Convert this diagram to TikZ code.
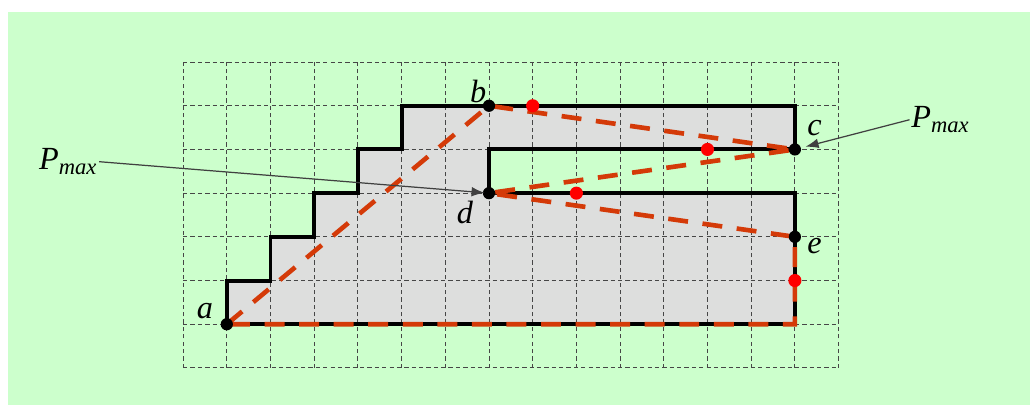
\documentclass[tikz,border=0pt]{standalone}
\usepackage{fontspec}
\setmainfont{Liberation Serif}
\usepackage{xcolor}
\usepackage{tikz}
\usetikzlibrary{arrows.meta, positioning}

\definecolor{fondo}{RGB}{204,255,204}
\definecolor{relleno}{RGB}{221,222,221}
\definecolor{naranja}{RGB}{212,58,8}
\definecolor{rejilla}{RGB}{70,70,70}

\begin{document}
\begin{tikzpicture}[
			x=1cm, y=1cm,
			grid/.style={draw=rejilla, line width=0.6pt, dash pattern=on 2.8pt off 2pt},
			contorno/.style={draw=black, line width=2.6pt, line join=miter},
			camino/.style={draw=naranja, line width=3pt, dash pattern=on 13pt off 9.5pt},
			punto/.style={circle, fill=black, inner sep=0pt, minimum size=0.28cm},
			rojo/.style={circle, fill=red, inner sep=0pt, minimum size=0.3cm},
			etiqueta/.style={font=\fontsize{21}{25}\selectfont\itshape, inner sep=1pt},
			flecha/.style={draw=black!75, line width=0.8pt, -{Latex[length=0.3cm, width=0.22cm]}}
			]
			
			% Fondo
			\useasboundingbox (-4.19,-0.85) rectangle (19.38,8.42);
			\fill[fondo] (-4.0,-0.85) rectangle (19.38,8.14);
			
			% Poligono
			\fill[relleno] (1,1) -- (1,2) -- (2,2) -- (2,3) -- (3,3) -- (3,4) -- (4,4) -- (4,5) -- (5,5) -- (5,6)
				-- (14,6) -- (14,5) -- (7,5) -- (7,4) -- (14,4) -- (14,1) -- cycle;
			
			% Rejilla
			\foreach \i in {0,...,15} \draw[grid] (\i,0) -- (\i,7);
			\foreach \j in {0,...,7} \draw[grid] (0,\j) -- (15,\j);
			
			\draw[contorno] (1,1) -- (1,2) -- (2,2) -- (2,3) -- (3,3) -- (3,4) -- (4,4) -- (4,5) -- (5,5) -- (5,6)
				-- (14,6) -- (14,5) -- (7,5) -- (7,4) -- (14,4) -- (14,1) -- cycle;
			
			% Vertices
			\coordinate (a) at (1,1);
			\coordinate (b) at (7,6);
			\coordinate (c) at (14,5);
			\coordinate (d) at (7,4);
			\coordinate (e) at (14,3);
			\coordinate (f) at (14,1);
			
			% Camino
			\draw[camino] (a) -- (b) -- (c) -- (d) -- (e) -- (f) -- cycle;
			
			\foreach \p in {a,b,c,d,e} \node[punto] at (\p) {};
			\foreach \q in {(8,6),(12,5),(9,4),(14,2)} \node[rojo] at \q {};
			
			% Etiquetas
			\node (la) [etiqueta] at (0.5,1.3) {a};
			\node (lb) [etiqueta] at (6.75,6.33) {b};
			\node (lc) [etiqueta] at (14.45,5.5) {c};
			\node (ld) [etiqueta] at (6.45,3.55) {d};
			\node (le) [etiqueta] at (14.45,2.8) {e};
			\node (pizq) [etiqueta] at (-2.63,4.72) {P\textsubscript{max}};
			\node (pder) [etiqueta] at (17.33,5.68) {P\textsubscript{max}};
			
			% Flechas
			\draw [flecha, shorten >=0.1cm] (pizq.east) -- (d);
			\draw [flecha, shorten >=0.25cm] (pder.west) -- (c);
			
		\end{tikzpicture}
\end{document}
